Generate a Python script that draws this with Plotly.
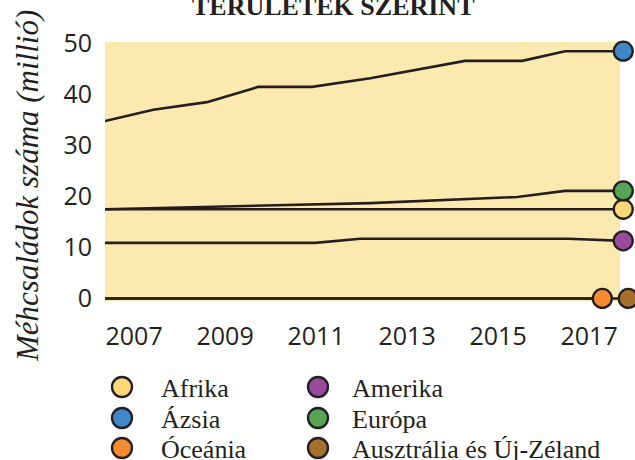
import plotly.graph_objects as go

# ---------------- data ----------------
asia_years = [2006.36, 2007.42, 2008.60, 2009.73, 2010.91, 2012.19, 2014.27, 2015.53, 2016.47, 2017.75]
asia_vals = [34.8, 37.0, 38.5, 41.5, 41.5, 43.2, 46.6, 46.6, 48.5, 48.5]

europe_years = [2006.36, 2012.19, 2015.42, 2016.47, 2017.75]
europe_vals = [17.5, 18.7, 19.9, 21.1, 21.1]

africa_years = [2006.36, 2017.75]
africa_vals = [17.5, 17.5]

america_years = [2006.36, 2010.98, 2011.97, 2016.54, 2017.75]
america_vals = [10.9, 10.9, 11.7, 11.7, 11.3]

oceania_years = [2006.36, 2017.29]
oceania_vals = [0, 0]

aus_nz_years = [2006.36, 2017.86]
aus_nz_vals = [0, 0]

x_tick_vals = [2007, 2009, 2011, 2013, 2015, 2017]
y_tick_vals = [0, 10, 20, 30, 40, 50]

# name, colour, years, values  (drawing order)
series = [
    ("Ausztrália és Új-Zéland", "#A86E2C", aus_nz_years, aus_nz_vals),
    ("Óceánia", "#F58A2E", oceania_years, oceania_vals),
    ("Amerika", "#9A4A9C", america_years, america_vals),
    ("Afrika", "#FDD877", africa_years, africa_vals),
    ("Európa", "#56A554", europe_years, europe_vals),
    ("Ázsia", "#3F87C8", asia_years, asia_vals),
]
legend_cols = [["Afrika", "Ázsia", "Óceánia"],
               ["Amerika", "Európa", "Ausztrália és Új-Zéland"]]
colour_of = {s[0]: s[1] for s in series}

INK = "#231F20"
W, H = 635, 460
L, R, T, B = 105, 0, 42, 159
PW, PH = W - L - R, H - T - B
X0 = 2006.36
PX_PER_YEAR = 45.5

fig = go.Figure()
for name, col, xs, ys in series:
    fig.add_trace(go.Scatter(x=xs, y=ys, mode="lines", line=dict(color=INK, width=2.6),
                             showlegend=False, hoverinfo="skip", cliponaxis=False))
for name, col, xs, ys in series:
    fig.add_trace(go.Scatter(x=[xs[-1]], y=[ys[-1]], mode="markers", name=name,
                             marker=dict(size=19, color=col, line=dict(color=INK, width=2.3)),
                             showlegend=False, cliponaxis=False))

def px_x(px):
    return (px - L) / PW

def px_y(py):
    return (H - B - py) / PH

# pale yellow plotting panel (ends before the end markers)
shapes = [dict(type="rect", xref="paper", yref="paper", x0=0, x1=px_x(620), y0=0, y1=1,
               fillcolor="#FCE9AF", line=dict(width=0), layer="below")]
annotations = []
col_marker_x = [122, 318]
col_text_x = [159, 350]
row_y = [387, 418, 448]
for ci, names in enumerate(legend_cols):
    for ri, nm in enumerate(names):
        shapes.append(dict(type="circle", xref="paper", yref="paper",
                           xsizemode="pixel", ysizemode="pixel",
                           xanchor=px_x(col_marker_x[ci]), yanchor=px_y(row_y[ri]),
                           x0=-10, x1=10, y0=-10, y1=10,
                           fillcolor=colour_of[nm], line=dict(color=INK, width=2.3)))
        annotations.append(dict(text=nm, xref="paper", yref="paper",
                                x=px_x(col_text_x[ci]), y=px_y(row_y[ri] + 1),
                                xanchor="left", yanchor="middle", showarrow=False,
                                font=dict(family="Liberation Serif", size=26, color=INK)))

annotations.append(dict(text="Méhcsaládok száma (millió)", xref="paper", yref="paper",
                        x=px_x(27), y=px_y(186), xanchor="center", yanchor="middle",
                        textangle=-90, showarrow=False,
                        font=dict(family="Liberation Serif", size=31, color=INK, style="italic")))
annotations.append(dict(text="<b>TERÜLETEK SZERINT</b>", xref="paper", yref="paper",
                        x=px_x(333), y=px_y(6), xanchor="center", yanchor="middle",
                        showarrow=False,
                        font=dict(family="Liberation Serif", size=26, color=INK)))

fig.update_layout(
    width=W, height=H,
    margin=dict(l=L, r=R, t=T, b=B, pad=0),
    paper_bgcolor="white",
    plot_bgcolor="white",
    showlegend=False,
    shapes=shapes,
    annotations=annotations,
    xaxis=dict(range=[X0, X0 + PW / PX_PER_YEAR], tickvals=x_tick_vals, showgrid=False,
               zeroline=False, showline=False, ticks="", ticklabelstandoff=18,
               tickfont=dict(family="Open Sans", size=25, color=INK)),
    yaxis=dict(range=[-0.5, 50.3], tickvals=y_tick_vals, showgrid=False,
               zeroline=False, showline=False, ticks="", ticklabelstandoff=12,
               tickfont=dict(family="Open Sans", size=25, color=INK)),
)

fig.write_html("out.html", config={"displayModeBar": False},
               post_script="document.body.style.margin='0';document.body.style.overflow='hidden';")
